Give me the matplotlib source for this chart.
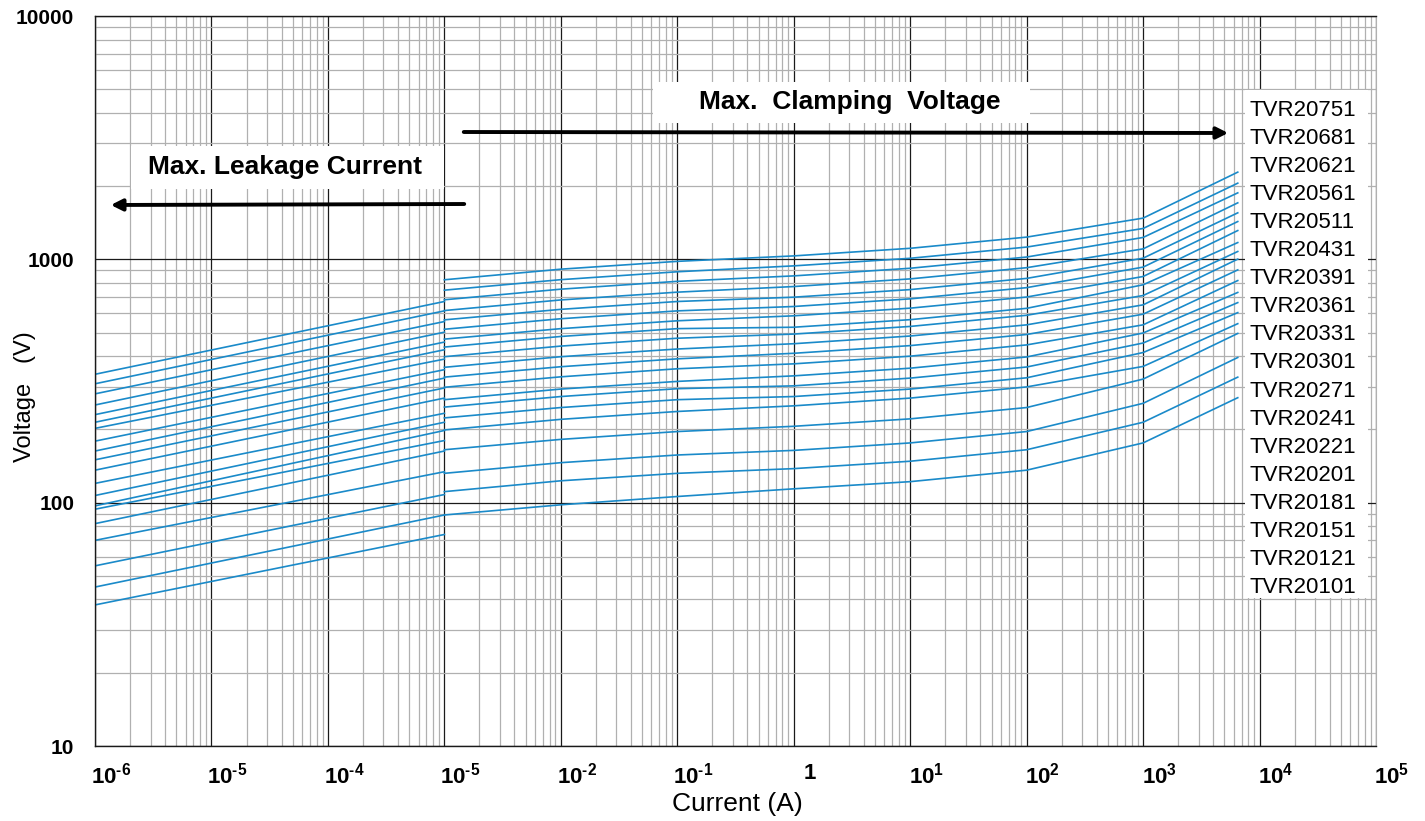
import numpy as np
import matplotlib.pyplot as plt
from matplotlib.ticker import FixedLocator, LogLocator, NullFormatter
from matplotlib.patches import Rectangle
import matplotlib.transforms as mtransforms

plt.rcParams['font.family'] = ['Liberation Sans', 'DejaVu Sans']
plt.rcParams['mathtext.fontset'] = 'custom'
plt.rcParams['mathtext.rm'] = 'Liberation Sans:bold'
plt.rcParams['mathtext.bf'] = 'Liberation Sans:bold'

# leakage part: 1uA .. 1mA
leak_current = [1e-6, 1e-3]
leak_start = [337, 308, 280, 252, 230, 214, 202, 179, 163, 150, 136, 120, 107, 97, 94, 82, 70, 55, 45, 38]
leak_end = [671, 614, 555, 502, 457, 425, 389, 352, 325, 296, 269, 233, 214, 198, 180, 163, 134, 108, 89, 74]

# clamping part: 1mA .. 6500A
clamp_current = [1e-3, 1e-2, 1e-1, 1, 10, 100, 1e3, 6.5e3]
clamp_1ma = [824, 747, 682, 616, 564, 516, 470, 436, 398, 360, 328, 298, 265, 247, 223, 199, 165, 132, 111, 89]
clamp_10ma = [911, 825, 754, 681, 623, 570, 519, 482, 440, 398, 362, 329, 293, 273, 246, 220, 182, 146, 123, 98]
clamp_100ma = [981, 889, 812, 733, 671, 614, 559, 519, 474, 428, 390, 355, 315, 294, 265, 237, 196, 157, 132, 106]
clamp_1a = [1033, 940, 855, 773, 699, 640, 586, 526, 493, 450, 411, 372, 332, 302, 273, 250, 206, 164, 138, 114]
clamp_10a = [1110, 1010, 919, 831, 751, 688, 630, 565, 530, 484, 442, 400, 357, 325, 293, 269, 221, 176, 148, 122]
clamp_100a = [1234, 1123, 1022, 924, 835, 765, 700, 629, 589, 538, 491, 445, 397, 361, 326, 299, 246, 196, 165, 136]
clamp_1ka = [1477, 1339, 1230, 1104, 1011, 929, 850, 786, 710, 650, 595, 538, 498, 453, 414, 363, 322, 256, 214, 176]
clamp_end = [2282, 2056, 1876, 1707, 1553, 1430, 1313, 1172, 1077, 1002, 905, 818, 731, 664, 604, 544, 496, 395, 328, 270]

models = ['TVR20751', 'TVR20681', 'TVR20621', 'TVR20561', 'TVR20511', 'TVR20431',
          'TVR20391', 'TVR20361', 'TVR20331', 'TVR20301', 'TVR20271', 'TVR20241',
          'TVR20221', 'TVR20201', 'TVR20181', 'TVR20151', 'TVR20121', 'TVR20101']

xticks = [1e-6, 1e-5, 1e-4, 1e-3, 1e-2, 1e-1, 1, 1e1, 1e2, 1e3, 1e4, 1e5]
xlabels = [r'$10^{\text{-}6}$', r'$10^{\text{-}5}$', r'$10^{\text{-}4}$', r'$10^{\text{-}5}$',
           r'$10^{\text{-}2}$', r'$10^{\text{-}1}$', r'$1$', r'$10^{1}$',
           r'$10^{2}$', r'$10^{3}$', r'$10^{4}$', r'$10^{5}$']
yticks = [10, 100, 1000, 10000]

W, H = 1425, 821
fig = plt.figure(figsize=(W / 100, H / 100), dpi=100)
ax = fig.add_axes([95 / W, 1 - 746 / H, (1376 - 95) / W, (746 - 16) / H])
ax.set_xscale('log')
ax.set_yscale('log')
ax.set_xlim(1e-6, 1e5)
ax.set_ylim(10, 1e4)

ax.xaxis.set_major_locator(FixedLocator(xticks))
ax.xaxis.set_minor_locator(LogLocator(base=10, subs=np.arange(2, 10), numticks=200))
ax.xaxis.set_minor_formatter(NullFormatter())
ax.set_xticklabels(xlabels)
ax.yaxis.set_major_locator(FixedLocator(yticks))
ax.yaxis.set_minor_locator(LogLocator(base=10, subs=np.arange(2, 10), numticks=200))
ax.yaxis.set_minor_formatter(NullFormatter())
ax.set_yticklabels([str(v) for v in yticks])

ax.grid(which='minor', color='#b0b0b0', lw=0.9)
ax.grid(which='major', color='#1a1a1a', lw=0.9)
ax.set_axisbelow(True)
ax.tick_params(which='both', length=0)
ax.tick_params(axis='y', labelsize=15, pad=15)
ax.tick_params(axis='x', labelsize=16, pad=12)
for lab in ax.get_xticklabels() + ax.get_yticklabels():
    lab.set_fontweight('bold')
shift = mtransforms.ScaledTranslation(0.16, 0, fig.dpi_scale_trans)
for lab in ax.get_xticklabels():
    lab.set_transform(lab.get_transform() + shift)

for s in ['left', 'bottom', 'top']:
    ax.spines[s].set_color('#1a1a1a')
    ax.spines[s].set_linewidth(1.0)
ax.spines['right'].set_color('#b0b0b0')

blue = '#1a8ac9'
for i in range(len(leak_start)):
    ax.plot(leak_current, [leak_start[i], leak_end[i]], color=blue, lw=1.2)
    volts = [clamp_1ma[i], clamp_10ma[i], clamp_100ma[i], clamp_1a[i],
             clamp_10a[i], clamp_100a[i], clamp_1ka[i], clamp_end[i]]
    ax.plot(clamp_current, volts, color=blue, lw=1.2)


def fx(x):
    return x / W


def fy(y):
    return 1 - y / H


# white boxes behind texts
for (x0, y0, x1, y1) in [(131, 146, 444, 189), (653, 82, 1030, 123), (1245, 90, 1368, 598)]:
    fig.add_artist(Rectangle((fx(x0), fy(y1)), fx(x1 - x0), (y1 - y0) / H,
                             transform=fig.transFigure, facecolor='white', edgecolor='none', zorder=3))

fig.text(fx(285), fy(167), 'Max. Leakage Current', fontsize=19, fontweight='bold',
         ha='center', va='center', zorder=4)
fig.text(fx(850), fy(102), 'Max.  Clamping  Voltage', fontsize=19, fontweight='bold',
         ha='center', va='center', zorder=4)

ax.annotate('', xy=(1231, H - 133), xytext=(461, H - 132), xycoords='figure pixels',
            textcoords='figure pixels',
            arrowprops=dict(arrowstyle='-|>', lw=2.8, color='black', mutation_scale=17), zorder=5)
ax.annotate('', xy=(108, H - 205), xytext=(467, H - 204), xycoords='figure pixels',
            textcoords='figure pixels',
            arrowprops=dict(arrowstyle='-|>', lw=2.8, color='black', mutation_scale=17), zorder=5)

for i, m in enumerate(models):
    fig.text(fx(1250), fy(110 + 28.1 * i), m, fontsize=16, ha='left', va='center', zorder=4)

fig.text(fx(25), fy(397), 'Voltage   (V)', fontsize=17, rotation=90, ha='center', va='center')
fig.text(fx(737), fy(804), 'Current (A)', fontsize=19, ha='center', va='center')

fig.savefig('out.png', dpi=100)
